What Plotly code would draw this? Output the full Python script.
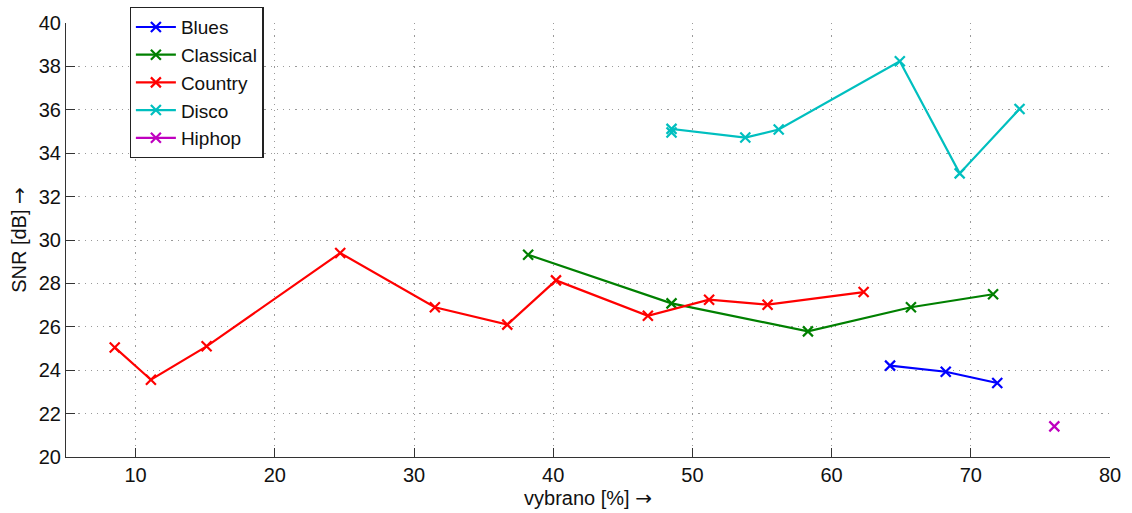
import plotly.graph_objects as go

# SNR against the selected share, one series per genre
blues_x = [64.2, 68.2, 71.9]
blues_y = [24.21, 23.93, 23.41]

classical_x = [38.2, 48.5, 58.3, 65.7, 71.6]
classical_y = [29.32, 27.08, 25.79, 26.90, 27.50]

country_x = [8.5, 11.1, 15.1, 24.7, 31.5, 36.7, 40.2, 46.8, 51.2, 55.4, 62.3]
country_y = [25.05, 23.56, 25.10, 29.40, 26.90, 26.10, 28.14, 26.51, 27.25, 27.02, 27.60]

disco_x = [48.5, 48.5, 53.8, 56.2, 64.9, 69.2, 73.5]
disco_y = [34.95, 35.12, 34.72, 35.09, 38.24, 33.07, 36.04]

hiphop_x = [76.0]
hiphop_y = [21.41]

series = [
    ("Blues", blues_x, blues_y, "rgb(0,0,255)"),
    ("Classical", classical_x, classical_y, "rgb(0,128,0)"),
    ("Country", country_x, country_y, "rgb(255,0,0)"),
    ("Disco", disco_x, disco_y, "rgb(0,191,191)"),
    ("Hiphop", hiphop_x, hiphop_y, "rgb(191,0,191)"),
]

x_ticks = [10, 20, 30, 40, 50, 60, 70, 80]
y_ticks = [20, 22, 24, 26, 28, 30, 32, 34, 36, 38, 40]

ARROW = '<span style="font-family:DejaVu Sans">→</span>'

fig = go.Figure()
for name, xs, ys, color in series:
    fig.add_trace(go.Scatter(
        x=xs, y=ys, name=name, mode="lines+markers",
        line=dict(color=color, width=2.2),
        marker=dict(symbol="x-thin", size=10, line=dict(color=color, width=2.2)),
    ))

font = dict(family="Liberation Sans, Arial, sans-serif", size=20, color="#111111")
legend_font = dict(family="Liberation Sans, Arial, sans-serif", size=19, color="#111111")
axis_common = dict(
    showgrid=True, gridcolor="#9a9a9a", griddash="1.2px,5px", gridwidth=1,
    showline=True, linecolor="#333333", linewidth=1.2,
    ticks="inside", ticklen=9, tickcolor="#333333", tickwidth=1.2,
    zeroline=False, tickfont=font, mirror=False,
)

fig.update_layout(
    width=1132, height=513,
    margin=dict(l=66, r=22, t=23, b=56, autoexpand=False),
    paper_bgcolor="white", plot_bgcolor="white",
    font=font,
    xaxis=dict(range=[5, 80], tickvals=x_ticks,
               title=dict(text="vybrano [%] " + ARROW, font=font, standoff=2),
               **axis_common),
    yaxis=dict(range=[20, 40], tickvals=y_ticks,
               title=dict(text="SNR [dB] " + ARROW, font=font, standoff=6),
               **axis_common),
    legend=dict(
        x=0.061, y=1.037, xanchor="left", yanchor="top",
        bgcolor="white", bordercolor="#222222", borderwidth=1.2,
        font=legend_font, tracegroupgap=0, itemwidth=40,
    ),
    showlegend=True,
)

fig.write_html("out.html")
